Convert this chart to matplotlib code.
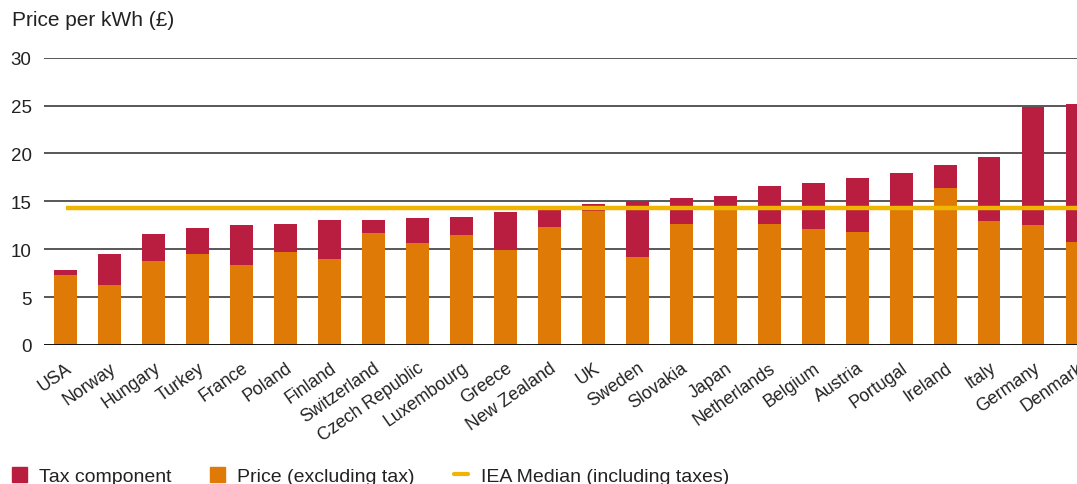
import matplotlib.pyplot as plt
from matplotlib.patches import Patch
from matplotlib.lines import Line2D

plt.rcParams['font.family'] = ['Liberation Sans', 'DejaVu Sans']

countries = ["USA", "Norway", "Hungary", "Turkey", "France", "Poland", "Finland",
             "Switzerland", "Czech Republic", "Luxembourg", "Greece", "New Zealand",
             "UK", "Sweden", "Slovakia", "Japan", "Netherlands", "Belgium", "Austria",
             "Portugal", "Ireland", "Italy", "Germany", "Denmark"]
# price before tax and total price including tax, pence per kWh
price_ex_tax = [7.3, 6.3, 8.8, 9.5, 8.4, 9.7, 9.0, 11.7, 10.7, 11.5, 9.9, 12.3,
                14.0, 9.2, 12.6, 14.3, 12.6, 12.1, 11.8, 14.4, 16.4, 12.9, 12.5, 10.8]
total_price = [7.8, 9.5, 11.6, 12.2, 12.5, 12.6, 13.05, 13.05, 13.25, 13.35, 13.9, 14.1,
               14.7, 15.0, 15.35, 15.55, 16.6, 16.9, 17.45, 17.95, 18.8, 19.6, 24.85, 25.15]
tax = [t - p for t, p in zip(total_price, price_ex_tax)]
iea_median = 14.33

RED = "#b91d3f"
ORANGE = "#df7a07"
YELLOW = "#efb500"
TXT = "#222222"

fig = plt.figure(figsize=(10.77, 4.85), dpi=100)
ax = fig.add_axes([44 / 1077, 139 / 485, 1 - 44 / 1077, 287.3 / 485])

x = range(len(countries))
for y in (5, 10, 15, 20, 25, 30):
    ax.axhline(y, color="#2a2a2a", lw=1.1, zorder=1)
ax.axhline(0, color="#111111", lw=1.4, zorder=4)

ax.bar(x, price_ex_tax, width=0.52, color=ORANGE, zorder=2)
ax.bar(x, tax, bottom=price_ex_tax, width=0.52, color=RED, zorder=2)
# median line runs from the first bar to beyond the right edge
ax.plot([0, len(countries)], [iea_median, iea_median], color=YELLOW, lw=3.2,
        solid_capstyle="butt", zorder=3)

ax.set_xlim(-0.49, 22.97)
ax.set_ylim(0, 30)
ax.set_yticks([0, 5, 10, 15, 20, 25, 30])
ax.set_xticks(list(x))
ax.set_xticklabels(countries, rotation=35, ha="right", rotation_mode="anchor")
ax.tick_params(axis="both", length=0, colors=TXT)
ax.tick_params(axis="y", pad=9, labelsize=13.5)
ax.tick_params(axis="x", pad=10, labelsize=12.8)
for s in ax.spines.values():
    s.set_visible(False)

fig.text(12 / 1077, 1 - 21 / 485, "Price per kWh (£)", fontsize=15, color=TXT, va="center")

handles = [Patch(color=RED), Patch(color=ORANGE),
           Line2D([], [], color=YELLOW, lw=3, solid_capstyle="round")]
labels = ["Tax component", "Price (excluding tax)", "IEA Median (including taxes)"]
fig.legend(handles, labels, ncol=3, loc="lower left", bbox_to_anchor=(0.0, -0.027),
           frameon=False, fontsize=14, handlelength=0.77, handleheight=0.77,
           handletextpad=0.62, columnspacing=2.0, borderaxespad=0.3,
           labelcolor=TXT, borderpad=0.3)

fig.savefig("out.png", dpi=100)
